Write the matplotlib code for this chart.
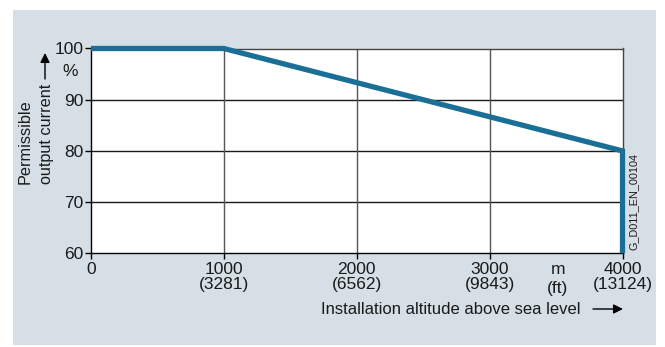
import matplotlib
matplotlib.use("Agg")
import matplotlib.pyplot as plt
from matplotlib.patches import Rectangle, FancyArrowPatch

plt.rcParams['font.family'] = ['Liberation Sans', 'DejaVu Sans']

# dane
altitude_m = [0, 1000, 4000, 4000]
current_pct = [100, 100, 80, 60]
x_ticks = [0, 1000, 2000, 3000, 4000]
x_tick_labels = ['0', '1000\n(3281)', '2000\n(6562)', '3000\n(9843)', '4000\n(13124)']
y_ticks = [60, 70, 80, 90, 100]
y_tick_labels = ['60', '70', '80', '90', '100']

W, H = 665, 347
FS = 12
TXT = '#1a1a1a'
fig = plt.figure(figsize=(W / 100, H / 100), dpi=100)
fig.patch.set_facecolor('white')

# tlo panelu
panel_color = '#d5dfe5'
fig.add_artist(Rectangle((13 / W, 2 / H), (656 - 13) / W, (345 - 10) / H,
                         transform=fig.transFigure, facecolor=panel_color,
                         edgecolor='none', zorder=-10))

ax = fig.add_axes([91 / W, (H - 253.3) / H, (622.5 - 91) / W, (253.3 - 48.5) / H])
ax.set_zorder(1)
ax.set_facecolor('white')
ax.set_xlim(0, 4000)
ax.set_ylim(60, 100)

# siatka
for y in [70, 80, 90]:
    ax.axhline(y, color='#1a1a1a', lw=1.0, zorder=1)
for x in [1000, 2000, 3000]:
    ax.axvline(x, color='#555555', lw=1.0, zorder=1)

ax.plot(altitude_m, current_pct, color='#1a6f96', lw=3.8, solid_capstyle='butt',
        solid_joinstyle='miter', clip_on=False, zorder=3)

for side in ['left', 'bottom']:
    ax.spines[side].set_color('black')
    ax.spines[side].set_linewidth(1.0)
for side in ['top', 'right']:
    ax.spines[side].set_color('#444444')
    ax.spines[side].set_linewidth(1.0)

ax.set_xticks(x_ticks)
ax.set_xticklabels(x_tick_labels)
ax.set_yticks(y_ticks)
ax.set_yticklabels(y_tick_labels)
ax.tick_params(axis='both', direction='out', length=4, width=1, color='black',
               labelsize=FS + 0.5, labelcolor=TXT)
ax.tick_params(axis='x', pad=2)
ax.tick_params(axis='y', pad=1.5)
for lbl in ax.get_xticklabels():
    lbl.set_linespacing(1.0)

# dodatkowe napisy
def px(x, y):
    return x / W, 1 - y / H

fig.text(*px(70, 72), '%', ha='center', va='center', fontsize=FS + 0.5, color=TXT)
fig.text(*px(558, 270), 'm', ha='center', va='center', fontsize=FS + 0.5, color=TXT)
fig.text(*px(558, 288), '(ft)', ha='center', va='center', fontsize=FS + 0.5, color=TXT)

fig.text(*px(25, 184), 'Permissible', rotation=90, ha='center', va='bottom',
         fontsize=11.7, color=TXT)
fig.text(*px(46, 184), 'output current', rotation=90, ha='center', va='bottom',
         fontsize=11.7, color=TXT)
fig.text(*px(321, 309), 'Installation altitude above sea level', ha='left', va='center',
         fontsize=FS, color=TXT)

fig.text(*px(634, 202), 'G_D011_EN_00104', rotation=90, ha='center', va='center',
         fontsize=7.8, color=TXT)

arrow = dict(arrowstyle='-|>', color='black', lw=1.0, mutation_scale=14, shrinkA=0, shrinkB=0)
fig.add_artist(FancyArrowPatch(px(45, 79), px(45, 53), transform=fig.transFigure, **arrow))
fig.add_artist(FancyArrowPatch(px(593, 309), px(623, 309), transform=fig.transFigure, **arrow))

fig.savefig('out.png', dpi=100)
